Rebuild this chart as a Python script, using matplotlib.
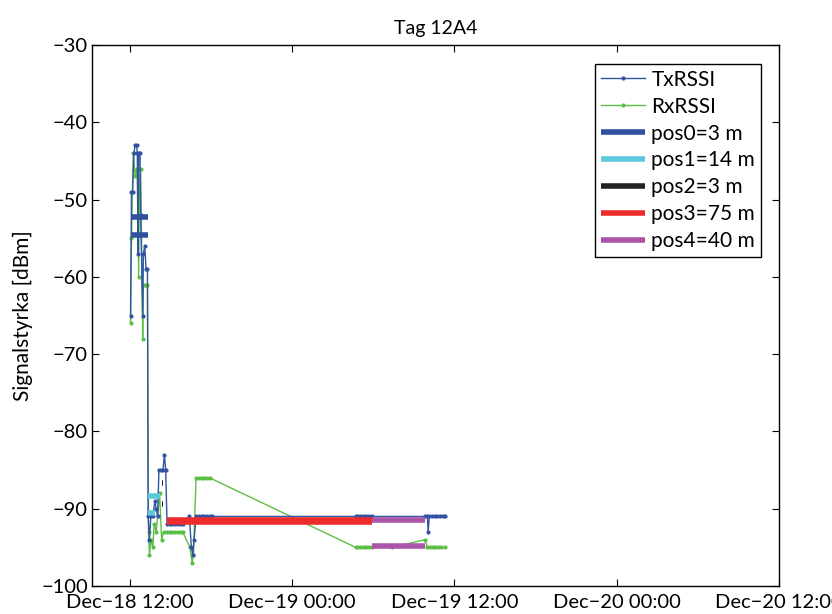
import numpy as np
import matplotlib
matplotlib.use("Agg")
import matplotlib.pyplot as plt
import matplotlib.dates as mdates
from matplotlib.ticker import FuncFormatter
import datetime as dt

# ---- data (hours after Dec-18 12:00, dBm) ----
tx_hours = [0.05, 0.12, 0.2, 0.3, 0.38, 0.5, 0.55, 0.6, 0.65, 0.75, 0.8, 0.95, 1.0, 1.1, 1.2, 1.3,
            1.35, 1.45, 1.55, 1.7, 1.85, 1.95, 2.05, 2.15, 2.3, 2.45, 2.55, 2.65,
            2.75, 2.95, 3.15, 3.35, 3.55, 3.75, 3.9, 4.4, 4.55, 4.65, 4.75, 4.9,
            5.1, 5.3, 5.5, 5.7, 5.9, 6.07,
            16.7, 16.9, 17.1, 17.3, 17.5, 17.7, 17.9,
            21.85, 22.0, 22.07, 22.15, 22.35, 22.55, 22.75, 22.95, 23.15, 23.3]
tx_vals = [-65, -49, -49, -44, -43, -43, -44, -57, -44, -44, -52, -65, -57, -56, -59, -59,
           -91, -94, -91, -91, -89, -90, -91, -85, -85, -85, -83, -85,
           -92, -92, -92, -92, -92, -92, -92, -91, -95, -96, -94, -91,
           -91, -91, -91, -91, -91, -91,
           -91, -91, -91, -91, -91, -91, -91,
           -91, -91, -93, -91, -91, -91, -91, -91, -91, -91]

rx_hours = [0.05, 0.12, 0.25, 0.4, 0.5, 0.55, 0.65, 0.7, 0.8, 0.95, 1.0, 1.15, 1.3,
            1.38, 1.45, 1.55, 1.7, 1.8, 1.95, 2.05, 2.2, 2.35, 2.5,
            2.75, 2.95, 3.15, 3.35, 3.55, 3.75, 3.9, 4.45, 4.6, 4.7, 4.9,
            5.1, 5.3, 5.5, 5.7, 5.9,
            16.7, 16.9, 17.1, 17.3, 17.5, 17.7, 17.9, 19.4, 21.85,
            22.0, 22.2, 22.4, 22.6, 22.8, 23.0, 23.3]
rx_vals = [-66, -55, -44, -47, -46, -46, -60, -49, -46, -68, -61, -61, -61,
           -93, -96, -94, -95, -92, -93, -91, -88, -94, -93,
           -93, -93, -93, -93, -93, -93, -93, -95, -97, -96, -86,
           -86, -86, -86, -86, -86,
           -95, -95, -95, -95, -95, -95, -95, -95, -94,
           -95, -95, -95, -95, -95, -95, -95]

# mean levels per position (tx mean, rx mean) and time spans
pos_labels = ["pos0=3 m", "pos1=14 m", "pos2=3 m", "pos3=75 m", "pos4=40 m"]
pos_start = [0.15, 1.33, 2.38, 2.74, 17.9]
pos_end = [1.33, 2.2, 2.46, 17.9, 21.85]
pos_tx_mean = [-52.3, -88.3, -86.7, -91.45, -91.45]
pos_rx_mean = [-54.6, -90.6, -89.4, -91.75, -94.85]
pos_rx_end = [1.33, 1.85, 2.46, 17.9, 21.85]
pos_colors = ["#2f4f9f", "#5bc8dc", "#222222", "#ee2b2b", "#aa55a8"]

t0 = dt.datetime(2011, 12, 18, 12, 0)
def to_time(hours):
    return [t0 + dt.timedelta(hours=h) for h in hours]

plt.rcParams['font.family'] = ['Lato', 'DejaVu Sans']

fig = plt.figure(figsize=(8.32, 6.14), dpi=100)
ax = fig.add_axes([0.1106, 0.0456, 0.8254, 0.8811])

ax.plot(to_time(tx_hours), tx_vals, color="#3252a3", marker='.', ms=4, lw=1.0,
        label="TxRSSI", zorder=2.2)
ax.plot(to_time(rx_hours), rx_vals, color="#5cbf45", marker='.', ms=4, lw=1.0,
        label="RxRSSI", zorder=2.1)
for i in range(len(pos_labels)):
    ax.plot(to_time([pos_start[i], pos_end[i]]), [pos_tx_mean[i]] * 2,
            color=pos_colors[i], lw=4, solid_capstyle='butt', label=pos_labels[i], zorder=2.3)
    ax.plot(to_time([pos_start[i], pos_rx_end[i]]), [pos_rx_mean[i]] * 2,
            color=pos_colors[i], lw=4, solid_capstyle='butt', zorder=2.3)

ax.set_xlim(t0 - dt.timedelta(hours=2.8), t0 + dt.timedelta(hours=48))
ax.set_ylim(-100, -30)
ax.set_xticks(to_time([0, 12, 24, 36, 48]))
ax.xaxis.set_major_formatter(FuncFormatter(
    lambda v, p: mdates.num2date(v).strftime("%b-%d %H:%M").replace("-", "\u2212")))
ax.set_yticks(np.arange(-100, -29, 10))
ax.tick_params(direction='in', top=True, right=True, length=5, labelsize=14.5, width=0.8, pad=3)
ax.tick_params(axis='x', pad=6)
for s in ax.spines.values():
    s.set_linewidth(1.0)

ax.set_title("Tag 12A4", fontsize=14, pad=8)
ax.set_ylabel("Signalstyrka [dBm]", fontsize=15, labelpad=6)

leg = ax.legend(loc='upper right', bbox_to_anchor=(0.99, 0.985), fontsize=15,
                fancybox=False, edgecolor='black', framealpha=1, handlelength=2.1,
                borderpad=0.3, labelspacing=0.33, handletextpad=0.3)
leg.get_frame().set_linewidth(1.0)

fig.savefig("out.png", dpi=100)
